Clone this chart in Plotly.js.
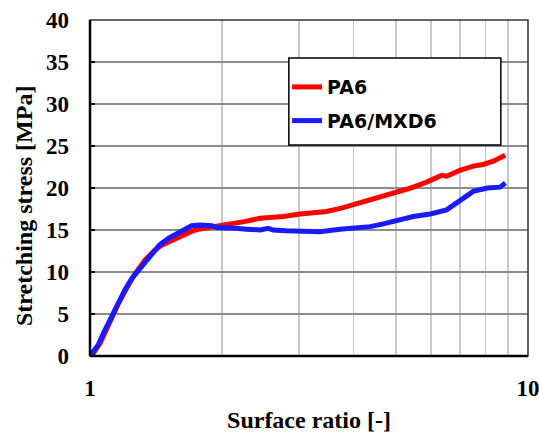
<!DOCTYPE html>
<html>
<head>
<meta charset="utf-8">
<script src="https://cdn.plot.ly/plotly-3.0.1.min.js"></script>
<style>html,body{margin:0;padding:0;background:#fff;}#chart{width:539px;height:433px;}</style>
</head>
<body>
<div id="chart"></div>
<script>
const seriesNames = ["PA6", "PA6/MXD6"];
const pa6X = [1.005, 1.017, 1.054, 1.09, 1.121, 1.16, 1.202, 1.26, 1.335, 1.40, 1.458, 1.54, 1.62, 1.70, 1.767, 1.87, 1.963, 2.06, 2.143, 2.25, 2.444, 2.6, 2.764, 3.015, 3.25, 3.469, 3.75, 3.99, 4.36, 4.65, 4.93, 5.4, 5.87, 6.2, 6.35, 6.52, 6.99, 7.50, 7.9, 8.33, 8.6, 8.87];
const pa6Y = [0, 0.3, 1.5, 3.2, 4.7, 6.2, 7.7, 9.6, 11.4, 12.5, 13.2, 13.8, 14.4, 14.8, 15.1, 15.3, 15.4, 15.6, 15.8, 16.0, 16.4, 16.5, 16.6, 16.9, 17.0, 17.2, 17.6, 18.0, 18.6, 18.9, 19.3, 20.0, 20.7, 21.3, 21.5, 21.4, 22.1, 22.6, 22.8, 23.2, 23.5, 23.9];
const mxdX = [1.0, 1.02, 1.044, 1.075, 1.111, 1.15, 1.202, 1.245, 1.289, 1.383, 1.44, 1.51, 1.56, 1.62, 1.706, 1.78, 1.862, 1.90, 1.947, 2.0, 2.143, 2.279, 2.45, 2.553, 2.62, 2.8, 3.015, 3.35, 3.72, 3.92, 4.06, 4.36, 4.65, 4.93, 5.47, 5.98, 6.52, 6.99, 7.50, 8.07, 8.63, 8.88];
const mxdY = [0, 0.6, 1.3, 2.8, 4.3, 6.0, 7.9, 9.2, 10.2, 12.2, 13.2, 14.0, 14.4, 14.8, 15.5, 15.6, 15.6, 15.5, 15.3, 15.3, 15.2, 15.1, 15.0, 15.2, 15.0, 14.9, 14.8, 14.8, 15.1, 15.2, 15.2, 15.4, 15.7, 16.0, 16.6, 16.9, 17.4, 18.5, 19.6, 20.0, 20.1, 20.6];
const xTickVals = [1, 2, 3, 4, 5, 6, 7, 8, 9, 10];
const xTickText = ["1", "", "", "", "", "", "", "", "", "10"];
const yTickVals = [0, 5, 10, 15, 20, 25, 30, 35, 40];

const serif = "Liberation Serif, Times New Roman, serif";
const traces = [
  {x: pa6X, y: pa6Y, name: seriesNames[0], legendgroup: "a", mode: "lines", line: {color: "#ff0000", width: 5}},
  {x: mxdX, y: mxdY, name: seriesNames[1], legendgroup: "b", mode: "lines", line: {color: "#1a1aff", width: 5}}
];
const layout = {
  width: 539, height: 433,
  margin: {l: 90, r: 11, t: 20, b: 77},
  paper_bgcolor: "#ffffff", plot_bgcolor: "#ffffff",
  showlegend: true,
  legend: {
    x: 0.45, y: 0.857, xanchor: "left", yanchor: "top",
    bgcolor: "rgba(0,0,0,0)", borderwidth: 0,
    font: {family: "DejaVu Sans, sans-serif", size: 19, color: "#000", weight: 700},
    traceorder: "grouped", tracegroupgap: 6, itemwidth: 30
  },
  xaxis: {
    type: "log", range: [0, 1],
    tickvals: xTickVals, ticktext: xTickText,
    showgrid: true, gridcolor: "#c8c8c8", gridwidth: 1.5,
    ticks: "", ticklabelstandoff: 16, ticklabeloverflow: "allow",
    showline: false, zeroline: false,
    tickfont: {family: serif, size: 23, color: "#000", weight: 700},
    title: {text: "Surface ratio [-]", font: {family: serif, size: 24, color: "#000", weight: 700}, standoff: 16}
  },
  yaxis: {
    range: [0, 40], tickvals: yTickVals,
    showgrid: true, gridcolor: "#8c8c8c", gridwidth: 1.2,
    ticks: "inside", ticklen: 5, tickcolor: "#000", tickwidth: 1.5,
    showline: false, zeroline: false,
    tickfont: {family: serif, size: 23, color: "#000", weight: 700},
    ticklabelstandoff: 20
  },
  annotations: [
    {text: "Stretching stress [MPa]", xref: "paper", yref: "paper", x: -0.151, y: 0.446,
     xanchor: "center", yanchor: "middle", textangle: -90, showarrow: false,
     font: {family: serif, size: 24, color: "#000", weight: 700}}
  ],
  shapes: [
    {type: "rect", xref: "paper", yref: "paper", x0: 0, x1: 1, y0: 0, y1: 1, line: {color: "#333333", width: 1.5}},
    {type: "line", xref: "paper", yref: "paper", x0: 0, x1: 0, y0: 0, y1: 1, line: {color: "#000", width: 2.5}},
    {type: "line", xref: "paper", yref: "paper", x0: 0, x1: 1, y0: 0, y1: 0, line: {color: "#000", width: 2.5}},
    {type: "rect", xref: "paper", yref: "paper", x0: 0.454, x1: 0.938, y0: 0.628, y1: 0.887, layer: "above",
     fillcolor: "#ffffff", line: {color: "#000", width: 1.5}}
  ]
};
Plotly.newPlot("chart", traces, layout, {displayModeBar: false, staticPlot: true});
</script>
</body>
</html>
